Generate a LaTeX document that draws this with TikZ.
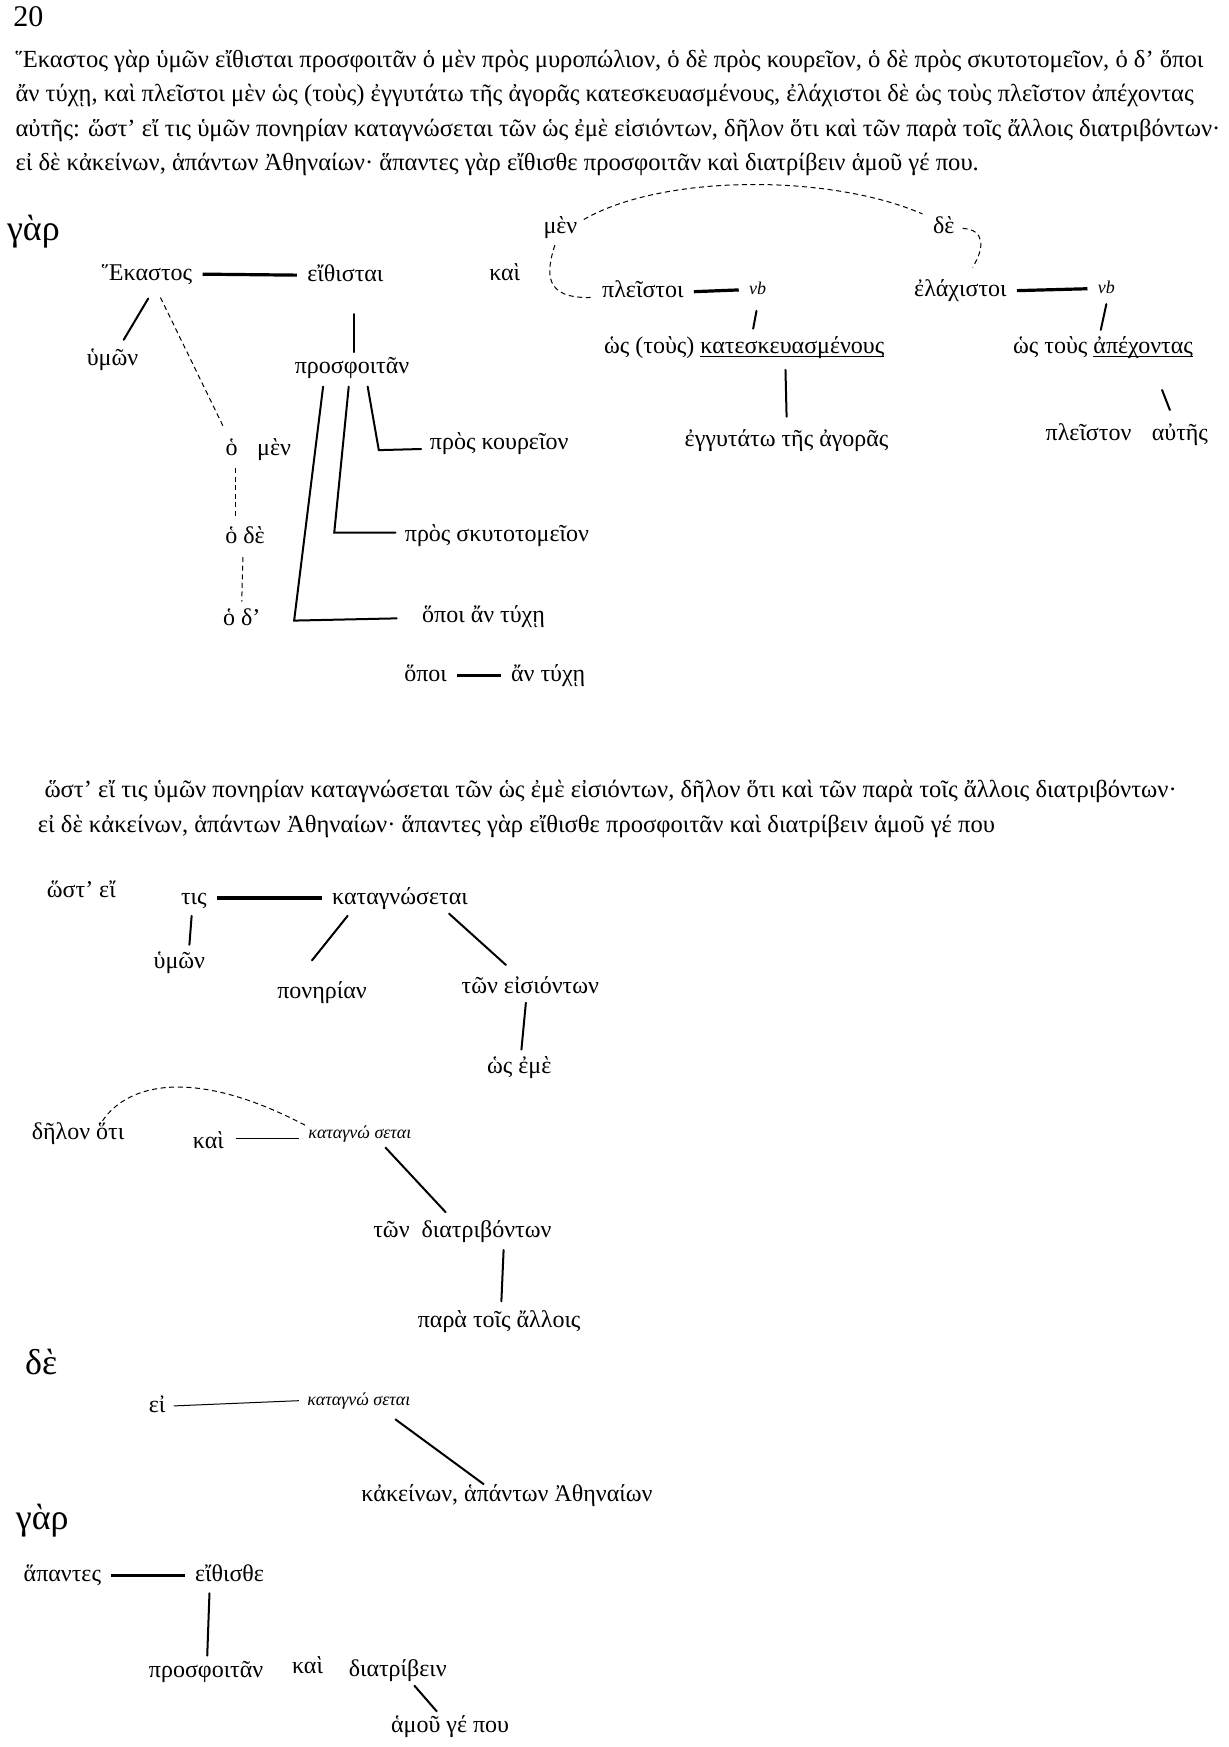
\documentclass[tikz,border=0pt]{standalone}
\usepackage{fontspec}
\setmainfont{Liberation Serif}
\usetikzlibrary{positioning,calc}
\newcommand{\uword}[1]{\underline{\smash{#1}}}
\tikzset{
  word/.style={inner sep=2pt, font=\fontsize{12}{14}\selectfont, text height=9pt, text depth=3pt},
  passage/.style={word, anchor=west, font=\fontsize{12.3}{14}\selectfont},
  bigword/.style={word, font=\fontsize{18}{20}\selectfont, text height=13pt, text depth=4pt},
  vbword/.style={word, font=\fontsize{9}{10}\selectfont\itshape, text height=7pt, text depth=2pt},
  branch/.style={line width=1pt, line cap=round},
  subjline/.style={line width=1.6pt, shorten <=3pt, shorten >=3pt},
  thinline/.style={line width=.5pt, shorten <=2pt, shorten >=2pt},
  dashlink/.style={line width=.5pt, dash pattern=on 2.5pt off 1.8pt}
}
\begin{document}
\begin{tikzpicture}[x=0.5571pt,y=-0.5571pt]
  \path[use as bounding box, fill=white] (0,0) rectangle (1103,1568);
  % Passage
  \node[word, anchor=west, font=\fontsize{15}{17}\selectfont] (page) at (8,18) {20};
  \node[passage] (txta) at (10,55) {Ἕκαστος γὰρ ὑμῶν εἴθισται προσφοιτᾶν ὁ μὲν πρὸς μυροπώλιον, ὁ δὲ πρὸς κουρεῖον, ὁ δὲ πρὸς σκυτοτομεῖον, ὁ δ’ ὅποι};
  \node[passage] (txtb) at (10,86) {ἄν τύχῃ, καὶ πλεῖστοι μὲν ὡς (τοὺς) ἐγγυτάτω τῆς ἀγορᾶς κατεσκευασμένους, ἐλάχιστοι δὲ ὡς τοὺς πλεῖστον ἀπέχοντας};
  \node[passage] (txtc) at (10,117) {αὐτῆς: ὥστ’ εἴ τις ὑμῶν πονηρίαν καταγνώσεται τῶν ὡς ἐμὲ εἰσιόντων, δῆλον ὅτι καὶ τῶν παρὰ τοῖς ἄλλοις διατριβόντων·};
  \node[passage] (txtd) at (10,148) {εἰ δὲ κἀκείνων, ἁπάντων Ἀθηναίων· ἅπαντες γὰρ εἴθισθε προσφοιτᾶν καὶ διατρίβειν ἁμοῦ γέ που.};

  % First sentence
  \node[bigword] (gar1) at (30,208) {γὰρ};
  \node[word] (ekastos) at (132,246) {Ἕκαστος};
  \node[word] (eithistai) at (310,247) {εἴθισται};
  \node[word] (humon1) at (101,323) {ὑμῶν};
  \node[word] (prosph1) at (316,330) {προσφοιτᾶν};
  \node[word] (ho1) at (208,403) {ὁ};
  \node[word] (men2) at (246,403) {μὲν};
  \node[word] (hode) at (220,482) {ὁ δὲ};
  \node[word] (hod) at (217,556) {ὁ δ’};
  \node[word] (koureion) at (448,398) {πρὸς κουρεῖον};
  \node[word] (skutot) at (446,481) {πρὸς σκυτοτομεῖον};
  \node[word] (hopoi1) at (434,553) {ὅποι ἄν τύχῃ};
  \node[word] (hopoi2) at (382,606) {ὅποι};
  \node[word] (antuche) at (492,606) {ἄν τύχῃ};
  % kai clause
  \node[word] (kai1) at (453,246) {καὶ};
  \node[word] (men1) at (503,204) {μὲν};
  \node[word] (de1) at (847,204) {δὲ};
  \node[word] (pleistoi) at (577,262) {πλεῖστοι};
  \node[vbword] (vba) at (680,260) {vb};
  \node[word] (hos1) at (668,312) {ὡς (τοὺς) \uword{κατεσκευασμένους}};
  \node[word] (engutato) at (706,395) {ἐγγυτάτω τῆς ἀγορᾶς};
  \node[word] (elach) at (862,261) {ἐλάχιστοι};
  \node[vbword] (vbb) at (993,259) {vb};
  \node[word] (hos2) at (990,312) {ὡς τοὺς \uword{ἀπέχοντας}};
  \node[word] (pleiston) at (977,390) {πλεῖστον};
  \node[word] (autes) at (1059,390) {αὐτῆς};

  \draw[subjline] (ekastos.east) -- (eithistai.west);
  \draw[branch] ($(ekastos)+(1,22)$) -- ($(humon1)+(10,-18)$);
  \draw[dashlink] ($(ekastos)+(12,21)$) -- ($(ho1)+(-8,-21)$);
  \draw[branch] ($(eithistai)+(8,35)$) -- ($(prosph1)+(2,-14)$);
  \draw[branch] ($(prosph1)+(14,17)$) -- ($(koureion)+(-108,6)$) -- ($(koureion)+(-70,5)$);
  \draw[branch] ($(prosph1)+(-3,17)$) -- ($(skutot)+(-146,-3)$) -- ($(skutot)+(-91,-3)$);
  \draw[branch] ($(prosph1)+(-26,17)$) -- ($(hopoi1)+(-170,4)$) -- ($(hopoi1)+(-78,2)$);
  \draw[dashlink] ($(ho1)+(3,17)$) -- ($(hode)+(-9,-17)$);
  \draw[dashlink] ($(hode)+(-2,18)$) -- ($(hod)+(0,-16)$);
  \draw[subjline] (hopoi2.east) -- (antuche.west);
  \draw[dashlink] ($(men1)+(21,-7)$) .. controls (595,156) and (745,156) .. ($(de1)+(-19,-12)$);
  \draw[dashlink] ($(de1)+(17,1)$) .. controls (884,206) and (884,222) .. ($(elach)+(11,-21)$);
  \draw[dashlink] ($(men1)+(-5,16)$) .. controls (490,245) and (488,268) .. ($(pleistoi)+(-47,5)$);
  \draw[subjline] (pleistoi.east) -- (vba.west);
  \draw[branch] ($(vba)+(-1,19)$) -- ($(hos1)+(8,-17)$);
  \draw[branch] ($(hos1)+(37,20)$) -- ($(engutato)+(0,-21)$);
  \draw[subjline] (elach.east) -- (vbb.west);
  \draw[branch] ($(vbb)+(0,14)$) -- ($(hos2)+(-2,-16)$);
  \draw[branch] ($(hos2)+(53,38)$) -- ($(autes)+(-9,-22)$);

  % Second sentence
  \node[passage] (txte) at (36,710) {ὥστ’ εἴ τις ὑμῶν πονηρίαν καταγνώσεται τῶν ὡς ἐμὲ εἰσιόντων, δῆλον ὅτι καὶ τῶν παρὰ τοῖς ἄλλοις διατριβόντων·};
  \node[passage] (txtf) at (30,742) {εἰ δὲ κἀκείνων, ἁπάντων Ἀθηναίων· ἅπαντες γὰρ εἴθισθε προσφοιτᾶν καὶ διατρίβειν ἁμοῦ γέ που};
  \node[word] (hoste) at (73,800) {ὥστ’ εἴ};
  \node[word] (tis) at (174,806) {τις};
  \node[word] (katag1) at (359,806) {καταγνώσεται};
  \node[word] (humon2) at (161,864) {ὑμῶν};
  \node[word] (ponerian) at (289,891) {πονηρίαν};
  \node[word] (eision) at (476,886) {τῶν εἰσιόντων};
  \node[word] (hoseme) at (466,958) {ὡς ἐμὲ};
  \node[word] (delon) at (70,1017) {δῆλον ὅτι};
  \node[word] (kai2) at (187,1025) {καὶ};
  \node[vbword] (katag2) at (323,1017) {καταγνώ σεται};
  \node[word] (diatrib) at (415,1105) {τῶν\ \ διατριβόντων};
  \node[word] (para) at (448,1186) {παρὰ τοῖς ἄλλοις};

  \draw[subjline] (tis.east) -- (katag1.west);
  \draw[branch] ($(tis)+(-2,16)$) -- ($(humon2)+(9,-16)$);
  \draw[branch] ($(katag1)+(-47,16)$) -- ($(ponerian)+(-9,-29)$);
  \draw[branch] ($(katag1)+(44,14)$) -- ($(eision)+(-22,-20)$);
  \draw[branch] ($(eision)+(-4,14)$) -- ($(hoseme)+(2,-16)$);
  \draw[dashlink] ($(delon)+(22,-11)$) .. controls (115,972) and (175,958) .. ($(katag2)+(-49,-7)$);
  \draw[thinline] ($(kai2)+(21,-3)$) -- ($(katag2)+(-51,5)$);
  \draw[branch] ($(katag2)+(23,13)$) -- ($(diatrib)+(-15,-17)$);
  \draw[branch] ($(diatrib)+(37,17)$) -- ($(para)+(2,-18)$);

  % Third sentence
  \node[bigword] (de3) at (37,1226) {δὲ};
  \node[word] (ei) at (141,1262) {εἰ};
  \node[vbword] (katag3) at (322,1257) {καταγνώ σεται};
  \node[word] (kakeinon) at (455,1342) {κἀκείνων, ἁπάντων Ἀθηναίων};
  \draw[thinline] (ei.east) -- (katag3.west);
  \draw[branch] ($(katag3)+(33,17)$) -- ($(kakeinon)+(-21,-10)$);

  % Fourth sentence
  \node[bigword] (gar4) at (38,1365) {γὰρ};
  \node[word] (hapantes) at (56,1414) {ἅπαντες};
  \node[word] (eithisthe) at (206,1414) {εἴθισθε};
  \node[word] (prosph2) at (185,1500) {προσφοιτᾶν};
  \node[word] (kai4) at (276,1497) {καὶ};
  \node[word] (diatribein) at (357,1499) {διατρίβειν};
  \node[word] (hamou) at (404,1550) {ἁμοῦ γέ που};
  \draw[subjline] (hapantes.east) -- (eithisthe.west);
  \draw[branch] ($(eithisthe)+(-18,16)$) -- ($(prosph2)+(1,-14)$);
  \draw[branch] ($(diatribein)+(15,14)$) -- ($(hamou)+(-12,-14)$);
\end{tikzpicture}
\end{document}
